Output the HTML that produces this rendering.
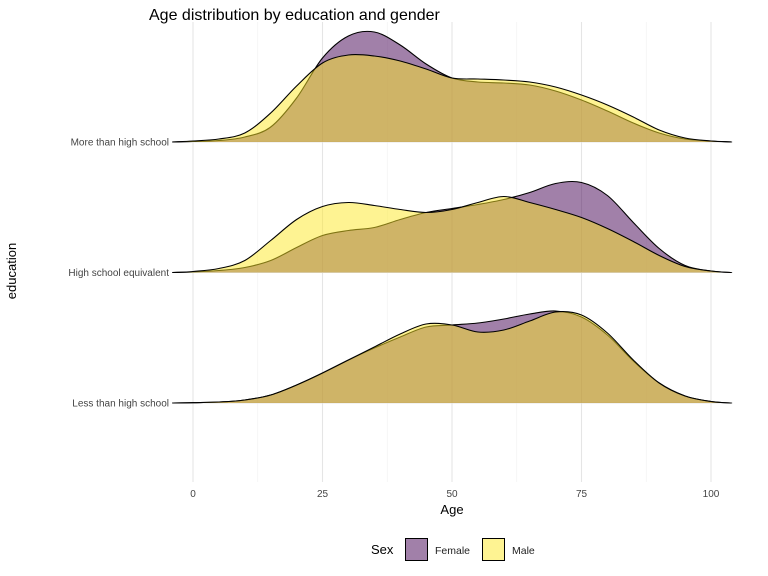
<!DOCTYPE html>
<html><head><meta charset="utf-8"><style>
body{margin:0;background:#fff}
svg{display:block;font-family:"Liberation Sans",sans-serif}
</style></head><body>
<svg width="768" height="576" viewBox="0 0 768 576">
<g id="grid"></g>
<g id="ridges"></g>
<g id="axes"></g>
<text x="149" y="20" font-size="16" fill="#000">Age distribution by education and gender</text>
<text x="16" y="271" font-size="13" fill="#000" text-anchor="middle" transform="rotate(-90 16 271)">education</text>
<text x="452" y="514" font-size="13" fill="#000" text-anchor="middle">Age</text>
<g>
<text x="371" y="554" font-size="13" fill="#000">Sex</text>
<rect x="405.5" y="538.5" width="22" height="22" fill="#440154" fill-opacity="0.5" stroke="#000" stroke-width="1"/>
<text x="435" y="554" font-size="10.5" fill="#222">Female</text>
<rect x="482.5" y="538.5" width="22" height="22" fill="#FDE725" fill-opacity="0.5" stroke="#000" stroke-width="1"/>
<text x="512" y="554" font-size="10.5" fill="#222">Male</text>
</g>
</svg>
<script>
const categories = ["Less than high school","High school equivalent","More than high school"];
const ages = [-4,0,5,10,15,20,25,30,35,40,45,50,55,60,65,70,75,80,85,90,95,100,104];
const femaleLess = [0,0.3,1,3,8,18,30,43,55,66,76,78,80,84,89,92,86,68,42,20,7,1.5,0];
const maleLess   = [0,0.3,1,3,8,18,30,43,56,69,79,78,71,73,82,91,88,70,43,20,7,1.5,0];
const femaleHS   = [0,0.5,2,5,12,25,37,42,45,53,60,64,68,73,80,89,90,77,50,24,7,1.5,0];
const maleHS     = [0,1,4,12,32,53,66,70,67,63,60,63,70,76,70,63,55,44,31,17,6,1.5,0];
const femaleMore = [0,0.5,1.5,5,15,44,84,106,110,97,78,64,60,59,57,51,42,31,19,9,3,1,0];
const maleMore   = [0,1,3,9,29,56,79,87,86,81,73,64,63,62,60,55,47,37,25,12,4,1,0];
const xTicks = [0,25,50,75,100];
const xTickLabels = ["0","25","50","75","100"];

const female = [femaleLess, femaleHS, femaleMore];
const male = [maleLess, maleHS, maleMore];
const NS = "http://www.w3.org/2000/svg";
const x = a => 193 + a * 5.18;
const yBase = i => 403 - i * 130.5;
const hScale = 1.0;

function mk(tag, attrs, parent){
  const e = document.createElementNS(NS, tag);
  for (const k in attrs) e.setAttribute(k, attrs[k]);
  parent.appendChild(e); return e;
}
function curvePath(vals, base){
  const p = ages.map((a,i)=>[x(a), base - vals[i]*hScale]);
  let d = "M" + p[0][0].toFixed(1) + "," + p[0][1].toFixed(1);
  for (let i=0;i<p.length-1;i++){
    const p0=p[Math.max(0,i-1)], p1=p[i], p2=p[i+1], p3=p[Math.min(p.length-1,i+2)];
    const c1=[p1[0]+(p2[0]-p0[0])/6, p1[1]+(p2[1]-p0[1])/6];
    const c2=[p2[0]-(p3[0]-p1[0])/6, p2[1]-(p3[1]-p1[1])/6];
    d += " C"+c1[0].toFixed(1)+","+Math.min(base,c1[1]).toFixed(1)+" "+c2[0].toFixed(1)+","+Math.min(base,c2[1]).toFixed(1)+" "+p2[0].toFixed(1)+","+p2[1].toFixed(1);
  }
  return d;
}

const grid = document.getElementById('grid');
[12.5,37.5,62.5,87.5].forEach(v=>{
  const l = mk('line',{x1:x(v),x2:x(v),y1:22,y2:482,stroke:'#f0f0f0','stroke-width':0.6},grid);
  
  
});
xTicks.forEach(v=>{
  const l = mk('line',{x1:x(v),x2:x(v),y1:22,y2:482,stroke:'#e5e5e5','stroke-width':1.1},grid);
  
  
});
categories.forEach((c,i)=>{
  const l = mk('line',{x1:172,x2:733,y1:yBase(i),y2:yBase(i),stroke:'#e5e5e5','stroke-width':1.1},grid);
  
  
});

const ridges = document.getElementById('ridges');
for (let i=categories.length-1;i>=0;i--){
  const b = yBase(i);
  [[female[i],'#440154','female'],[male[i],'#FDE725','male']].forEach(([vals,col,nm])=>{
    const d = curvePath(vals,b);
    const f = mk('path',{d:d+" L"+x(ages[ages.length-1])+","+b+" L"+x(ages[0])+","+b+" Z",fill:col,'fill-opacity':0.5,stroke:'none'},ridges);
    
    
    const s = mk('path',{d:d,fill:'none',stroke:'#000','stroke-width':1.1},ridges);
    
    
  });
}

const axes = document.getElementById('axes');
xTicks.forEach((v,i)=>{
  const t = mk('text',{x:x(v),y:497,'font-size':10,fill:'#444','text-anchor':'middle'},axes);
  t.textContent = xTickLabels[i];
  
  
});
categories.forEach((c,i)=>{
  const t = mk('text',{x:169,y:yBase(i)+3.5,'font-size':10,fill:'#444','text-anchor':'end'},axes);
  t.textContent = c;
  
  
});
</script>
</body></html>
